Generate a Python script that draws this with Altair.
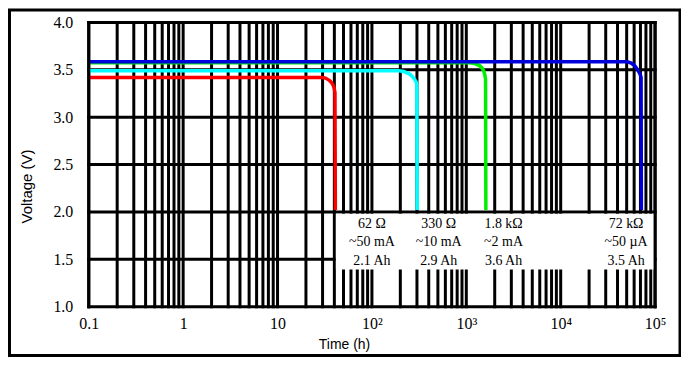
import altair as alt
import pandas as pd

# ---------------- data ----------------
series_names = ["62 ohm", "330 ohm", "1.8 kohm", "72 kohm"]
series_colors = ["#ff0000", "#00ffff", "#00ee00", "#0000dd"]

time_red = [0.1, 29.6, 35.2, 38.7, 40.6, 41.0]
volt_red = [3.42, 3.42, 3.39, 3.34, 3.26, 2.02]
time_cyan = [0.1, 193, 246, 278, 299, 302]
volt_cyan = [3.49, 3.49, 3.46, 3.41, 3.35, 2.02]
time_green = [0.1, 1059, 1350, 1524, 1600, 1612]
volt_green = [3.575, 3.575, 3.55, 3.49, 3.40, 2.02]
time_blue = [0.1, 49300, 59980, 66100, 71100, 71600]
volt_blue = [3.585, 3.585, 3.55, 3.49, 3.42, 2.02]

x_tick_values = [0.1, 1, 10, 100, 1000, 10000, 100000]
x_tick_labels = ["0.1", "1", "10", "10\u00b2", "10\u00b3", "10\u2074", "10\u2075"]
y_tick_values = [1.0, 1.5, 2.0, 2.5, 3.0, 3.5, 4.0]

v_grid = [m * 10 ** k for k in range(-1, 5) for m in range(1, 10)] + [100000]
h_grid = y_tick_values

ann_x = [100, 510, 2480, 49300]
ann_y = [1.87, 1.68, 1.48]
ann_text = [
    ["62 \u03a9", "~50 mA", "2.1 Ah"],
    ["330 \u03a9", "~10 mA", "2.9 Ah"],
    ["1.8 k\u03a9", "~2 mA", "3.6 Ah"],
    ["72 k\u03a9", "~50 \u00b5A", "3.5 Ah"],
]

box_x = [41.5, 100000]
box_y = [1.98, 1.393]

# ---------------- chart ----------------
xs = alt.Scale(type="log", domain=[0.1, 100000], nice=False)
ys = alt.Scale(domain=[1, 4], nice=False, zero=False)

label_expr = "[" + ",".join("'%s'" % s for s in x_tick_labels) + "][round(log(datum.value)/LN10)+1]"

x_axis = alt.Axis(
    values=x_tick_values, labelExpr=label_expr, grid=False, ticks=False, domain=False,
    labelFont="Liberation Serif", labelFontSize=16, labelColor="black", labelPadding=9,
    labelFlush=False, labelOverlap=False,
    title="Time (h)", titleFont="Liberation Sans", titleFontSize=14, titleFontWeight="normal",
    titleColor="black", titleX=256, titleY=38, titleAlign="center", titleBaseline="middle",
)
y_axis = alt.Axis(
    values=y_tick_values, format=".1f", grid=False, ticks=False, domain=False,
    labelFont="Liberation Serif", labelFontSize=16, labelColor="black", labelPadding=16,
    title="Voltage (V)", titleFont="Liberation Sans", titleFontSize=15, titleFontWeight="normal",
    titleColor="black", titleX=-62, titleY=164, titleAlign="center", titleBaseline="middle",
)

vdf = pd.DataFrame({"t": v_grid})
hdf = pd.DataFrame({"v": h_grid})

vgrid = alt.Chart(vdf).mark_rule(color="black", strokeWidth=3, strokeCap="square").encode(
    x=alt.X("t:Q", scale=xs, axis=x_axis, title="Time (h)"),
    y=alt.datum(1.0, scale=ys, axis=y_axis, title="Voltage (V)"),
    y2=alt.datum(4.0),
)
hgrid = alt.Chart(hdf).mark_rule(color="black", strokeWidth=3, strokeCap="square").encode(
    y=alt.Y("v:Q", scale=ys, axis=y_axis, title="Voltage (V)"),
    x=alt.datum(0.1, scale=xs, axis=x_axis, title="Time (h)"),
    x2=alt.datum(100000),
)

curves = []
all_t = [time_red, time_cyan, time_green, time_blue]
all_v = [volt_red, volt_cyan, volt_green, volt_blue]
for name, col, tt, vv in zip(series_names, series_colors, all_t, all_v):
    df = pd.DataFrame({"t": tt, "v": vv, "s": name})
    curves.append(
        alt.Chart(df).mark_line(color=col, strokeWidth=3.5, interpolate="monotone").encode(
            x=alt.X("t:Q", scale=xs, axis=x_axis, title="Time (h)"),
            y=alt.Y("v:Q", scale=ys, axis=y_axis, title="Voltage (V)"),
        )
    )

box_df = pd.DataFrame({"x1": [box_x[0]], "x2": [box_x[1]], "y1": [box_y[0]], "y2": [box_y[1]]})
box = alt.Chart(box_df).mark_rect(color="white").encode(
    x=alt.X("x1:Q", scale=xs, axis=x_axis, title="Time (h)"), x2="x2:Q",
    y=alt.Y("y1:Q", scale=ys, axis=y_axis, title="Voltage (V)"), y2="y2:Q",
)

frame_df = pd.DataFrame({"t": [0.1, 100000]})
frame = alt.Chart(frame_df).mark_rule(color="black", strokeWidth=3, strokeCap="square").encode(
    x=alt.X("t:Q", scale=xs, axis=x_axis, title="Time (h)"),
    y=alt.datum(1.0, scale=ys, axis=y_axis, title="Voltage (V)"),
    y2=alt.datum(4.0),
)

rows = []
for xi, lines in zip(ann_x, ann_text):
    for yi, txt in zip(ann_y, lines):
        rows.append({"x": xi, "y": yi, "txt": txt})
ann_df = pd.DataFrame(rows)
ann = alt.Chart(ann_df).mark_text(
    font="Liberation Serif", fontSize=14, color="black", align="center", baseline="middle"
).encode(
    x=alt.X("x:Q", scale=xs, axis=x_axis, title="Time (h)"),
    y=alt.Y("y:Q", scale=ys, axis=y_axis, title="Voltage (V)"),
    text="txt:N",
)

border = alt.Chart(pd.DataFrame({"a": [0]})).mark_rect(
    filled=False, stroke="black", strokeWidth=3
).encode(
    x=alt.value(-79.5), x2=alt.value(593), y=alt.value(-12.5), y2=alt.value(334)
)

chart = alt.layer(vgrid, hgrid, *curves, box, frame, ann, border).properties(
    width=568, height=285,
    autosize=alt.AutoSizeParams(type="none"),
    padding={"left": 81, "top": 14, "right": 26, "bottom": 50},
).configure_view(stroke=None).configure(background="white")

chart.save("out.html", embed_options={"renderer": "svg", "actions": False})
